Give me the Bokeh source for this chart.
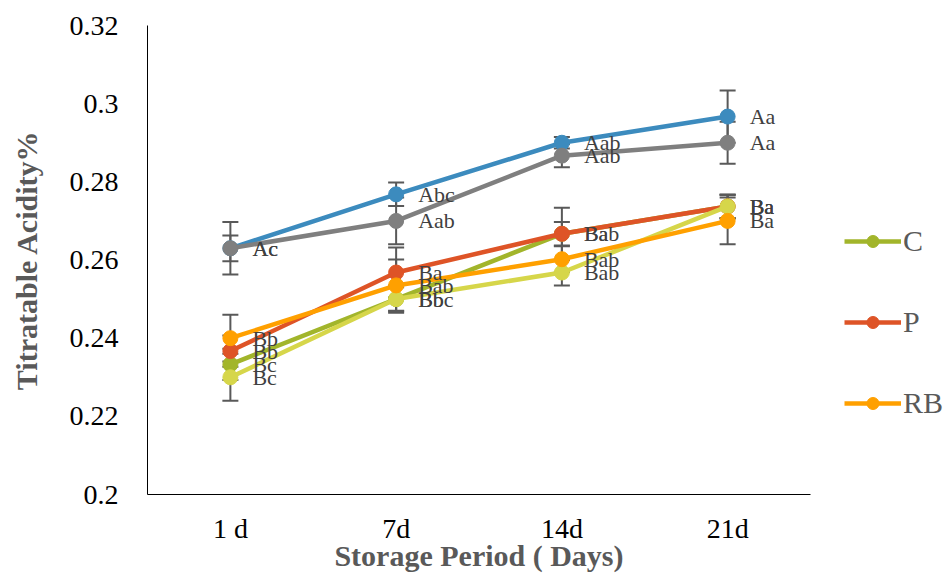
from bokeh.plotting import figure
from bokeh.models import ColumnDataSource, Whisker, Legend, LegendItem, CustomJSTickFormatter, FixedTicker, LabelSet
from bokeh.embed import file_html
from bokeh.resources import INLINE

days = ["1 d", "7d", "14d", "21d"]

# series values (Titratable Acidity %)
blue_vals = [0.263, 0.2768, 0.290, 0.2967]
gray_vals = [0.263, 0.270, 0.2867, 0.290]
c_vals = [0.2333, 0.250, 0.2667, 0.2737]
p_vals = [0.2367, 0.2568, 0.2667, 0.2737]
rb_vals = [0.240, 0.2535, 0.2602, 0.270]
yel_vals = [0.230, 0.250, 0.2568, 0.2737]

# standard errors
blue_err = [0.0033, 0.003, 0.0015, 0.0067]
gray_err = [0.0067, 0.006, 0.003, 0.0054]
c_err = [0.004, 0.003, 0.003, 0.003]
p_err = [0.004, 0.0064, 0.0067, 0.003]
rb_err = [0.006, 0.0066, 0.0033, 0.006]
yel_err = [0.006, 0.0035, 0.0033, 0.003]

# significance letters
blue_lbl = ["Ac", "Abc", "Aab", "Aa"]
gray_lbl = ["Ac", "Aab", "Aab", "Aa"]
c_lbl = ["Bc", "Bb", "Ba", "Ba"]
p_lbl = ["Bb", "Ba", "Bab", "Ba"]
rb_lbl = ["Bb", "Bab", "Bab", "Ba"]
yel_lbl = ["Bc", "Bbc", "Bab", "Ba"]

series = [
    ("blue", blue_vals, blue_err, blue_lbl, "#3C8BBE"),
    ("gray", gray_vals, gray_err, gray_lbl, "#7F7F7F"),
    ("C", c_vals, c_err, c_lbl, "#A2B52B"),
    ("P", p_vals, p_err, p_lbl, "#DE5427"),
    ("yellow", yel_vals, yel_err, yel_lbl, "#D6D64A"),
    ("RB", rb_vals, rb_err, rb_lbl, "#FFA000"),
]
legend_names = ["C", "P", "RB"]

FONT = "Liberation Serif"

p = figure(x_range=days, y_range=(0.2, 0.32), width=948, height=578,
           frame_width=663, frame_height=469,
           min_border_left=147, min_border_right=138, min_border_top=25, min_border_bottom=84,
           output_backend="svg", toolbar_location=None)
p.outline_line_color = None
p.xgrid.visible = False
p.ygrid.visible = False
p.background_fill_color = "white"

p.yaxis.ticker = FixedTicker(ticks=[0.2, 0.22, 0.24, 0.26, 0.28, 0.3, 0.32])
p.yaxis.formatter = CustomJSTickFormatter(code="return String(Number(tick.toFixed(2)));")
for ax in (p.xaxis[0], p.yaxis[0]):
    ax.major_tick_line_color = None
    ax.minor_tick_line_color = None
    ax.major_tick_out = 0
    ax.major_tick_in = 0
    ax.minor_tick_out = 0
    ax.minor_tick_in = 0
    ax.axis_line_color = "black"
    ax.axis_line_width = 1
    ax.major_label_text_font = FONT
    ax.major_label_text_font_size = "28px"
    ax.major_label_text_color = "black"
    ax.axis_label_text_font = FONT
    ax.axis_label_text_font_style = "bold"
    ax.axis_label_text_font_size = "30px"
    ax.axis_label_text_color = "#595959"
p.yaxis.major_label_standoff = 29
p.yaxis.axis_label = "Titratable Acidity%"
p.yaxis.axis_label_standoff = 24
p.xaxis.axis_label = "Storage Period ( Days)"
p.xaxis.major_label_standoff = 18
p.xaxis.axis_label_standoff = -8

legend_items = {}
for name, vals, errs, lbls, color in series:
    src = ColumnDataSource(dict(x=days, y=vals,
                                upper=[v + e for v, e in zip(vals, errs)],
                                lower=[v - e for v, e in zip(vals, errs)],
                                lbl=lbls))
    w = Whisker(source=src, base="x", upper="upper", lower="lower", level="underlay",
                line_color="#595959", line_width=2)
    w.upper_head.line_color = "#595959"
    w.lower_head.line_color = "#595959"
    w.upper_head.line_width = 2
    w.lower_head.line_width = 2
    w.upper_head.size = 16
    w.lower_head.size = 16
    p.add_layout(w)
    r1 = p.line("x", "y", source=src, line_color=color, line_width=4.5, line_join="round")
    r2 = p.scatter("x", "y", source=src, size=15, fill_color=color, line_color=color)
    legend_items[name] = [r1, r2]
    labels = LabelSet(x="x", y="y", text="lbl", source=src, x_offset=22, y_offset=0,
                      text_font=FONT, text_font_size="22px", text_color="#404040",
                      text_baseline="middle", text_align="left")
    p.add_layout(labels)

legend = Legend(items=[LegendItem(label=n, renderers=legend_items[n]) for n in legend_names],
                location=(34, 74), orientation="vertical",
                glyph_width=57, glyph_height=30, label_height=30, spacing=47,
                label_standoff=2, padding=0, margin=0,
                label_text_font=FONT, label_text_font_size="30px", label_text_color="#595959",
                border_line_color=None, background_fill_alpha=0)
p.add_layout(legend, "right")

open("out.html", "w").write(file_html(p, INLINE))
